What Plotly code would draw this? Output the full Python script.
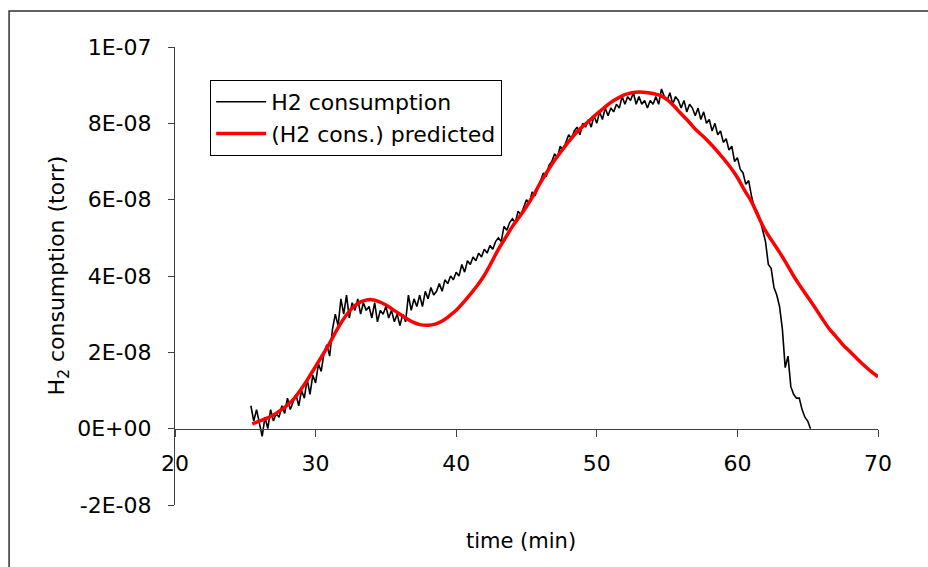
import plotly.graph_objects as go

# ---------------- data (values in units of 1E-08 torr) ----------------
meas_t0 = 25.4
meas_dt = 0.2
h2_consumption = [
    0.6, 0.2, 0.5, 0.1, -0.2, 0.3, 0.0, 0.5, 0.2, 0.4,
    0.3, 0.6, 0.4, 0.8, 0.5, 0.7, 0.9, 0.6, 1.0, 0.8,
    1.3, 0.9, 1.4, 1.2, 1.7, 1.5, 2.0, 2.2, 1.9, 2.6,
    3.0, 2.7, 3.4, 3.0, 3.5, 2.9, 3.3, 3.1, 3.4, 3.0,
    3.3, 3.1, 3.2, 2.9, 3.3, 2.8, 3.1, 3.0, 3.2, 2.9,
    3.1, 2.8, 3.0, 2.7, 3.0, 2.8, 3.5, 3.1, 3.4, 3.2,
    3.5, 3.2, 3.6, 3.4, 3.7, 3.5, 3.6, 3.8, 3.6, 3.9,
    3.8, 4.0, 3.9, 4.1, 4.0, 4.3, 4.1, 4.4, 4.3, 4.5,
    4.4, 4.6, 4.5, 4.7, 4.6, 4.8, 4.7, 4.9, 5.0, 4.9,
    5.3, 5.2, 5.4, 5.5, 5.4, 5.7, 5.6, 5.8, 6.0, 5.9,
    6.2, 6.1, 6.3, 6.5, 6.7, 6.6, 6.9, 7.0, 7.2, 7.1,
    7.4, 7.3, 7.5, 7.7, 7.6, 7.8, 7.9, 7.7, 8.0, 7.9,
    8.1, 7.9, 8.2, 8.0, 8.3, 8.1, 8.4, 8.2, 8.4, 8.3,
    8.5, 8.4, 8.7, 8.5, 8.7, 8.6, 8.8, 8.5, 8.7, 8.5,
    8.6, 8.4, 8.6, 8.5, 8.7, 8.5, 8.9, 8.7, 8.6, 8.8,
    8.5, 8.7, 8.6, 8.4, 8.6, 8.3, 8.5, 8.4, 8.2, 8.4,
    8.1, 8.3, 8.0, 8.1, 7.8, 8.0, 7.7, 7.8, 7.5, 7.6,
    7.3, 7.4, 7.0, 7.1, 6.8, 6.7, 6.4, 6.5, 6.1, 5.8,
    5.7, 5.5, 5.2, 4.9, 4.3, 4.2, 3.7, 3.5, 3.2, 2.6,
    1.6, 1.9, 1.1, 0.9, 0.8, 0.8, 0.5, 0.3, 0.2, 0.0,
]
meas_time = [round(meas_t0 + meas_dt * i, 2) for i in range(len(h2_consumption))]

pred_t0 = 25.5
pred_dt = 0.5
h2_predicted = [
    0.12, 0.20, 0.27, 0.36, 0.48, 0.62, 0.80, 1.05, 1.33, 1.63,
    1.93, 2.24, 2.58, 2.88, 3.12, 3.28, 3.36, 3.38, 3.33, 3.24,
    3.12, 3.00, 2.88, 2.78, 2.72, 2.71, 2.74, 2.82, 2.95, 3.10,
    3.30, 3.52, 3.75, 4.02, 4.35, 4.70, 5.00, 5.30, 5.55, 5.82,
    6.12, 6.45, 6.75, 7.03, 7.28, 7.52, 7.74, 7.92, 8.08, 8.25,
    8.40, 8.55, 8.66, 8.75, 8.80, 8.82, 8.81, 8.78, 8.73, 8.62,
    8.45, 8.25, 8.06, 7.85, 7.68, 7.50, 7.30, 7.08, 6.85, 6.58,
    6.25, 5.95, 5.55, 5.18, 4.90, 4.62, 4.32, 4.00, 3.72, 3.45,
    3.18, 2.90, 2.63, 2.42, 2.20, 2.02, 1.84, 1.66, 1.50, 1.36,
]
pred_time = [round(pred_t0 + pred_dt * i, 2) for i in range(len(h2_predicted))]

unit = 1e-8
y_tickvals = [-2e-8, 0, 2e-8, 4e-8, 6e-8, 8e-8, 1e-7]
y_ticktext = ["-2E-08", "0E+00", "2E-08", "4E-08", "6E-08", "8E-08", "1E-07"]
x_tickvals = [20, 30, 40, 50, 60, 70]

# ---------------- figure ----------------
FONT = "Verdana, DejaVu Sans, sans-serif"
FS = 22
fig = go.Figure()
fig.add_trace(go.Scatter(
    x=meas_time, y=[v * unit for v in h2_consumption],
    mode="lines", name="H2 consumption",
    line=dict(color="black", width=1.6),
))
fig.add_trace(go.Scatter(
    x=pred_time, y=[v * unit for v in h2_predicted],
    mode="lines", name="(H2 cons.) predicted",
    line=dict(color="#ff0000", width=3.5, shape="spline"),
))

ymin, ymax = -2e-8, 1e-7
fig.update_layout(
    width=928, height=567,
    margin=dict(l=175, r=50, t=47, b=62),
    paper_bgcolor="white", plot_bgcolor="white",
    font=dict(family=FONT, size=FS, color="black"),
    showlegend=True,
    legend=dict(
        x=0.05, y=0.928, xanchor="left", yanchor="top",
        bgcolor="white", bordercolor="black", borderwidth=1,
        font=dict(family=FONT, size=FS, color="black"),
        tracegroupgap=0, itemwidth=50,
    ),
    xaxis=dict(
        range=[20, 70], tickvals=x_tickvals,
        showline=True, linecolor="#404040", linewidth=1.2,
        ticks="outside", ticklen=7, tickcolor="#404040",
        showgrid=False, zeroline=False,
        anchor="free", position=(0 - ymin) / (ymax - ymin),
        ticklabelstandoff=8,
        tickfont=dict(family=FONT, size=FS, color="black"),
    ),
    yaxis=dict(
        range=[ymin, ymax], tickvals=y_tickvals, ticktext=y_ticktext,
        showline=True, linecolor="#404040", linewidth=1.2,
        ticks="outside", ticklen=6, tickcolor="#404040",
        showgrid=False, zeroline=False,
        ticklabelstandoff=12,
        tickfont=dict(family=FONT, size=FS, color="black"),
    ),
    annotations=[
        dict(text="time (min)", xref="paper", yref="paper",
             x=0.492, y=-0.079, xanchor="center", yanchor="middle",
             showarrow=False, font=dict(family=FONT, size=21, color="black")),
        dict(text="H<sub>2</sub> consumption (torr)", xref="paper", yref="paper",
             x=-0.166, y=0.502, xanchor="center", yanchor="middle", textangle=-90,
             showarrow=False, font=dict(family=FONT, size=FS, color="black")),
    ],
    shapes=[
        dict(type="rect", xref="paper", yref="paper",
             x0=-0.236, y0=-0.3, x1=1.2, y1=1.0786,
             line=dict(color="#303030", width=1.5), fillcolor="rgba(0,0,0,0)"),
    ],
)

fig.write_html("out.html")
